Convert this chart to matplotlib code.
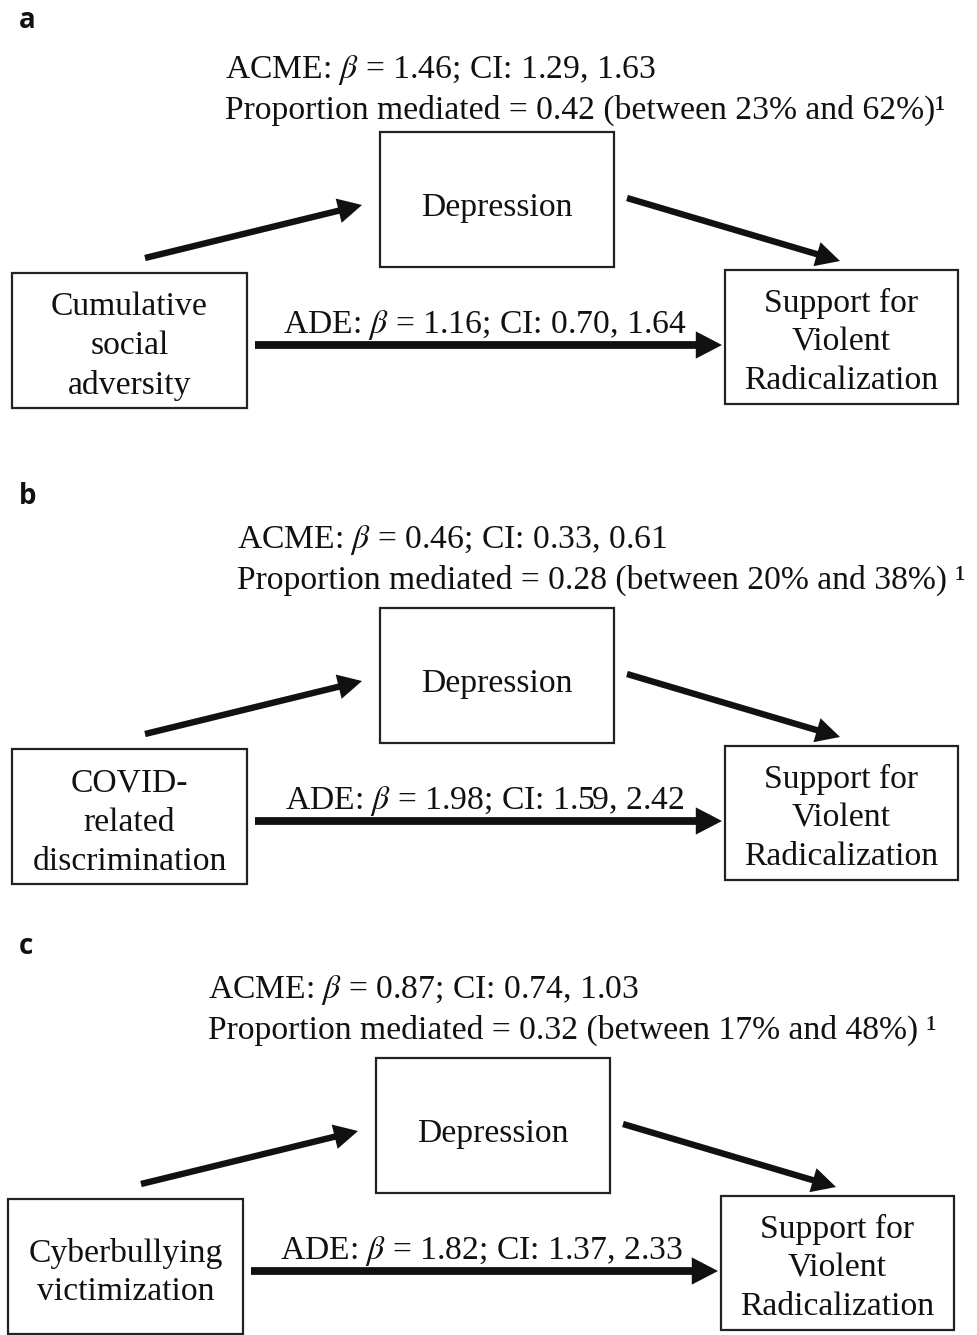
import matplotlib.pyplot as plt
from matplotlib.patches import Rectangle, FancyArrowPatch

# ─── values ─────────────────────────────────────────────────────────────────
panel_labels   = ["a", "b", "c"]
predictors     = ["Cumulative\nsocial\nadversity",
                  "COVID-\nrelated\ndiscrimination",
                  "Cyberbullying\nvictimization"]
mediator       = "Depression"
outcome        = "Support for\nViolent\nRadicalization"
acme_beta      = [1.46, 0.46, 0.87]
acme_ci_low    = [1.29, 0.33, 0.74]
acme_ci_high   = [1.63, 0.61, 1.03]
prop_mediated  = [0.42, 0.28, 0.32]
prop_low_pct   = [23, 20, 17]
prop_high_pct  = [62, 38, 48]
note_sep       = ["", " ", " "]
ade_beta       = [1.16, 1.98, 1.82]
ade_ci_low     = [0.70, 1.59, 1.37]
ade_ci_high    = [1.64, 2.42, 2.33]

# ─── layout (pixel units, y downward) ───────────────────────────────────────
W, H = 978, 1335
panel_dy   = [0, 476, 926]
panel_dx   = [0, 0, -4]
text_x     = [225, 237, 208]
text_dy    = [0, 470, 920]

plt.rcParams["mathtext.fontset"] = "stix"
SERIF = ["Liberation Serif", "DejaVu Serif"]
FS = 24.2
LW_BOX = 1.6
INK = "#111111"
BETA = r"$\beta$"

fig = plt.figure(figsize=(W / 100, H / 100), dpi=100)
ax = fig.add_axes([0, 0, 1, 1])
ax.set_xlim(0, W)
ax.set_ylim(H, 0)
ax.axis("off")


def box(x0, y0, x1, y1, label, dy_text=5):
    ax.add_patch(Rectangle((x0, y0), x1 - x0, y1 - y0, fill=False,
                           edgecolor="#222222", linewidth=LW_BOX))
    ax.text((x0 + x1) / 2, (y0 + y1) / 2 + dy_text, label, ha="center", va="center",
            family=SERIF, fontsize=FS, color=INK, linespacing=1.36)


def arrow(p0, p1, lw):
    ax.add_patch(FancyArrowPatch(p0, p1, arrowstyle="-|>,head_length=0.5,head_width=0.26",
                                 mutation_scale=20, linewidth=lw, color=INK,
                                 shrinkA=0, shrinkB=0, joinstyle="miter",
                                 capstyle="butt"))


for i in range(3):
    dy, dx = panel_dy[i], panel_dx[i]
    ax.text(19, 20 + dy, panel_labels[i], ha="left", va="center",
            family=["Open Sans", "DejaVu Sans"], fontweight="bold", fontsize=20,
            color=INK)

    ty = text_dy[i]
    ax.text(text_x[i], 70 + ty,
            f"ACME: {BETA} = {acme_beta[i]:.2f}; CI: {acme_ci_low[i]:.2f}, {acme_ci_high[i]:.2f}",
            ha="left", va="center", family=SERIF, fontsize=FS, color=INK)
    ax.text(text_x[i], 110 + ty,
            f"Proportion mediated = {prop_mediated[i]:.2f} (between {prop_low_pct[i]}% "
            f"and {prop_high_pct[i]}%){note_sep[i]}\u00b9",
            ha="left", va="center", family=SERIF, fontsize=FS, color=INK)

    box(380 + dx, 132 + dy, 614 + dx, 267 + dy, mediator, dy_text=8)
    box(12 + dx, 273 + dy, 247 + dx, 408 + dy, predictors[i], dy_text=6)
    box(725 + dx, 270 + dy, 958 + dx, 404 + dy, outcome, dy_text=5)

    arrow((145 + dx, 258 + dy), (362 + dx, 205 + dy), 4.6)
    arrow((627 + dx, 198 + dy), (840 + dx, 261 + dy), 4.6)
    arrow((255 + dx, 345 + dy), (722 + dx, 345 + dy), 5.6)

    ax.text(485 + dx, 325 + dy,
            f"ADE: {BETA} = {ade_beta[i]:.2f}; CI: {ade_ci_low[i]:.2f}, {ade_ci_high[i]:.2f}",
            ha="center", va="center", family=SERIF, fontsize=FS, color=INK)

fig.savefig("out.png", dpi=100, facecolor="white")
